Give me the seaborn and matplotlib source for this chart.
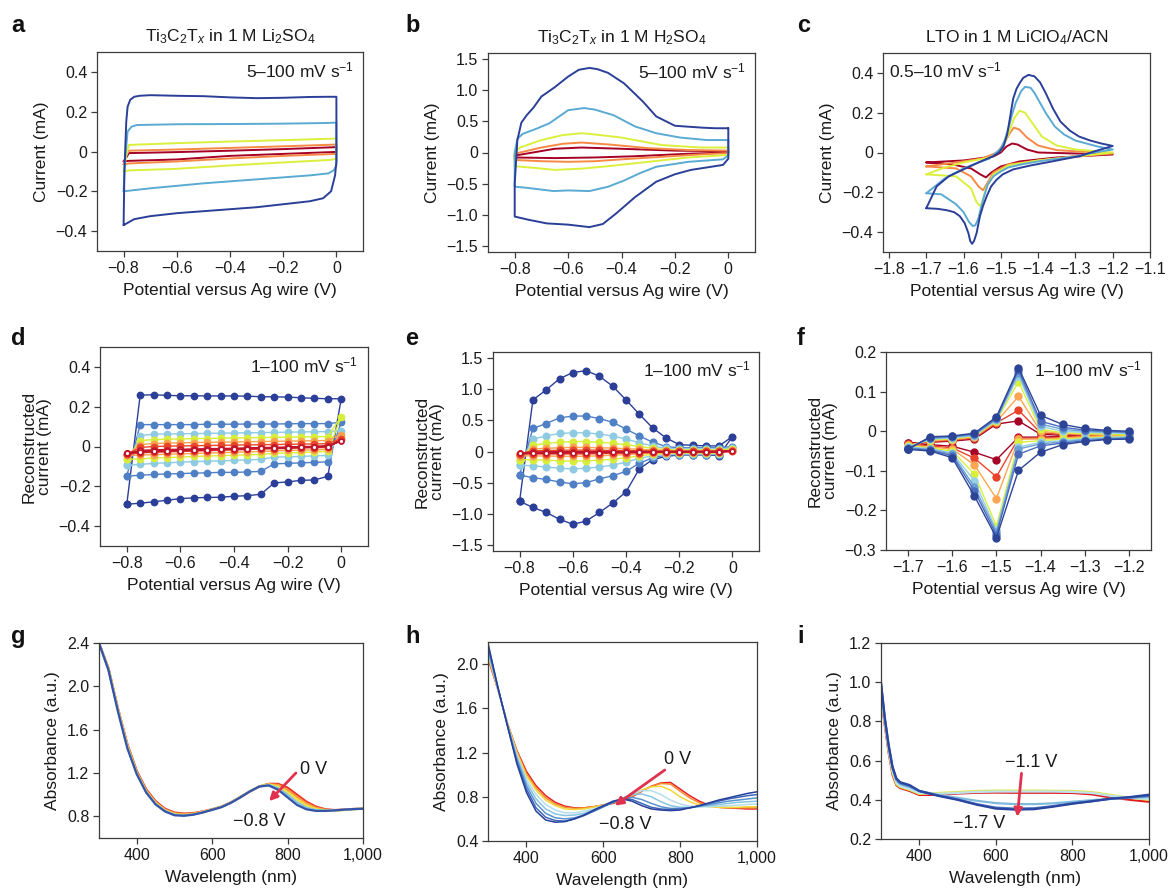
import numpy as np
import pandas as pd
import matplotlib
matplotlib.use("Agg")
import matplotlib.pyplot as plt
from matplotlib.ticker import FuncFormatter, FixedLocator
import seaborn as sns

# ---------------- DATA ----------------
# Panel a: Ti3C2Tx in Li2SO4 (5 scan rates, inner -> outer)
a_x_100 = [-0.8, -0.797, -0.79, -0.785, -0.775, -0.76, -0.74, -0.7, -0.6, -0.5, -0.4, -0.3, -0.2, -0.1, -0.03, 0.0, 0.0, -0.005, -0.02, -0.05, -0.1, -0.2, -0.3, -0.4, -0.5, -0.6, -0.7, -0.76, -0.8]
a_y_100 = [-0.37, -0.1, 0.15, 0.225, 0.26, 0.275, 0.28, 0.283, 0.28, 0.278, 0.272, 0.268, 0.27, 0.274, 0.275, 0.275, -0.05, -0.12, -0.2, -0.235, -0.25, -0.265, -0.28, -0.29, -0.30, -0.31, -0.325, -0.34, -0.37]
a_x_50 = [-0.8, -0.795, -0.785, -0.77, -0.75, -0.6, -0.4, -0.2, -0.05, 0.0, 0.0, -0.01, -0.03, -0.1, -0.3, -0.5, -0.7, -0.8]
a_y_50 = [-0.2, -0.05, 0.1, 0.125, 0.133, 0.137, 0.138, 0.14, 0.143, 0.145, -0.07, -0.095, -0.11, -0.12, -0.14, -0.16, -0.185, -0.2]
a_x_20 = [-0.8, -0.79, -0.78, -0.6, -0.4, -0.2, 0.0, 0.0, -0.02, -0.2, -0.4, -0.6, -0.78, -0.8]
a_y_20 = [-0.1, -0.02, 0.033, 0.042, 0.05, 0.057, 0.065, -0.035, -0.042, -0.055, -0.07, -0.087, -0.095, -0.1]
a_x_10 = [-0.8, -0.79, -0.78, -0.6, -0.4, -0.2, 0.0, 0.0, -0.2, -0.4, -0.6, -0.78, -0.8]
a_y_10 = [-0.065, -0.02, 0.004, 0.01, 0.018, 0.026, 0.035, -0.012, -0.022, -0.035, -0.05, -0.06, -0.065]
a_x_5 = [-0.8, -0.79, -0.78, -0.6, -0.4, -0.2, 0.0, 0.0, -0.2, -0.4, -0.6, -0.78, -0.8]
a_y_5 = [-0.05, -0.03, -0.008, -0.003, 0.004, 0.012, 0.022, -0.002, -0.012, -0.022, -0.04, -0.047, -0.05]

# Panel b: Ti3C2Tx in H2SO4
b_x_100 = [0.0, -0.05, -0.1, -0.2, -0.27, -0.32, -0.39, -0.45, -0.49, -0.52, -0.56, -0.6, -0.65, -0.7, -0.73, -0.755, -0.775, -0.79, -0.8, -0.8, -0.75, -0.68, -0.6, -0.52, -0.47, -0.42, -0.35, -0.27, -0.2, -0.14, -0.08, -0.02, 0.0, 0.0]
b_y_100 = [0.39, 0.39, 0.40, 0.43, 0.58, 0.82, 1.11, 1.28, 1.34, 1.36, 1.33, 1.22, 1.05, 0.9, 0.72, 0.6, 0.48, 0.2, -0.5, -1.03, -1.08, -1.14, -1.16, -1.2, -1.15, -0.98, -0.72, -0.47, -0.35, -0.28, -0.24, -0.2, -0.1, 0.39]
b_x_50 = [0.0, -0.08, -0.18, -0.27, -0.35, -0.43, -0.5, -0.54, -0.6, -0.67, -0.72, -0.77, -0.79, -0.8, -0.8, -0.75, -0.655, -0.6, -0.52, -0.45, -0.39, -0.33, -0.27, -0.15, -0.02, 0.0, 0.0]
b_y_50 = [0.2, 0.2, 0.24, 0.31, 0.42, 0.6, 0.69, 0.715, 0.68, 0.47, 0.38, 0.3, 0.22, 0.0, -0.55, -0.57, -0.62, -0.61, -0.62, -0.55, -0.45, -0.33, -0.23, -0.15, -0.11, -0.05, 0.2]
b_x_20 = [0.0, -0.1, -0.25, -0.4, -0.5, -0.55, -0.62, -0.7, -0.78, -0.8, -0.8, -0.72, -0.65, -0.55, -0.45, -0.3, -0.15, 0.0, 0.0]
b_y_20 = [0.08, 0.08, 0.12, 0.24, 0.29, 0.31, 0.28, 0.2, 0.08, 0.0, -0.22, -0.25, -0.28, -0.26, -0.22, -0.15, -0.08, -0.04, 0.08]
b_x_10 = [0.0, -0.15, -0.3, -0.45, -0.55, -0.62, -0.7, -0.8, -0.8, -0.7, -0.6, -0.5, -0.4, -0.25, -0.1, 0.0, 0.0]
b_y_10 = [0.03, 0.04, 0.07, 0.13, 0.16, 0.14, 0.08, -0.02, -0.12, -0.14, -0.15, -0.14, -0.11, -0.07, -0.03, -0.01, 0.03]
b_x_5 = [0.0, -0.2, -0.4, -0.55, -0.65, -0.8, -0.8, -0.65, -0.5, -0.35, -0.15, 0.0, 0.0]
b_y_5 = [0.02, 0.03, 0.06, 0.08, 0.06, -0.05, -0.08, -0.09, -0.08, -0.06, -0.02, 0.0, 0.02]

# Panel c: LTO in LiClO4/ACN (0.5-10 mV/s)
c_x_10 = [-1.7, -1.672, -1.64, -1.6, -1.56, -1.52, -1.505, -1.493, -1.483, -1.475, -1.467, -1.458, -1.449, -1.44, -1.426, -1.41, -1.395, -1.38, -1.36, -1.34, -1.315, -1.29, -1.26, -1.23, -1.2,
          -1.25, -1.288, -1.33, -1.377, -1.42, -1.467, -1.495, -1.511, -1.526, -1.538, -1.548, -1.556, -1.565, -1.572, -1.577, -1.582, -1.587, -1.597, -1.61, -1.625, -1.645, -1.67, -1.7]
c_y_10 = [-0.28, -0.17, -0.12, -0.085, -0.05, -0.018, 0.0, 0.03, 0.09, 0.18, 0.27, 0.32, 0.35, 0.375, 0.39, 0.383, 0.353, 0.3, 0.22, 0.155, 0.11, 0.08, 0.06, 0.045, 0.033,
          0.005, -0.018, -0.033, -0.05, -0.065, -0.085, -0.11, -0.136, -0.17, -0.22, -0.27, -0.32, -0.405, -0.445, -0.459, -0.445, -0.405, -0.355, -0.32, -0.3, -0.29, -0.283, -0.28]
c_x_5 = [-1.7, -1.65, -1.6, -1.56, -1.53, -1.5, -1.49, -1.48, -1.47, -1.46, -1.445, -1.435, -1.42, -1.41, -1.395, -1.38, -1.355, -1.33, -1.3, -1.28, -1.24, -1.2,
         -1.25, -1.3, -1.35, -1.4, -1.44, -1.48, -1.5, -1.52, -1.535, -1.545, -1.555, -1.56, -1.568, -1.575, -1.585, -1.6, -1.62, -1.66, -1.7]
c_y_5 = [-0.205, -0.13, -0.08, -0.05, -0.03, 0.02, 0.06, 0.12, 0.19, 0.25, 0.31, 0.33, 0.325, 0.3, 0.25, 0.2, 0.13, 0.09, 0.06, 0.05, 0.03, 0.015,
         0.0, -0.02, -0.032, -0.045, -0.058, -0.075, -0.095, -0.12, -0.16, -0.22, -0.29, -0.33, -0.365, -0.37, -0.35, -0.3, -0.26, -0.21, -0.205]
c_x_2 = [-1.7, -1.65, -1.6, -1.53, -1.5, -1.48, -1.465, -1.45, -1.435, -1.42, -1.39, -1.35, -1.3, -1.2, -1.3, -1.4, -1.48, -1.52, -1.54, -1.55, -1.555, -1.565, -1.58, -1.62, -1.7]
c_y_2 = [-0.11, -0.075, -0.05, -0.025, 0.01, 0.09, 0.17, 0.21, 0.2, 0.16, 0.08, 0.035, 0.015, 0.0, -0.02, -0.04, -0.065, -0.11, -0.18, -0.25, -0.27, -0.25, -0.18, -0.12, -0.11]
c_x_1 = [-1.7, -1.62, -1.55, -1.51, -1.49, -1.475, -1.465, -1.45, -1.43, -1.4, -1.35, -1.2, -1.3, -1.4, -1.48, -1.52, -1.538, -1.548, -1.56, -1.58, -1.62, -1.7]
c_y_1 = [-0.07, -0.05, -0.03, 0.0, 0.05, 0.1, 0.125, 0.115, 0.075, 0.035, 0.012, -0.005, -0.02, -0.04, -0.06, -0.1, -0.16, -0.19, -0.17, -0.12, -0.08, -0.07]
c_x_05 = [-1.7, -1.6, -1.52, -1.5, -1.485, -1.47, -1.455, -1.43, -1.4, -1.2, -1.35, -1.45, -1.5, -1.525, -1.54, -1.555, -1.58, -1.63, -1.7]
c_y_05 = [-0.05, -0.04, -0.02, 0.0, 0.03, 0.045, 0.04, 0.015, 0.0, -0.01, -0.025, -0.045, -0.07, -0.1, -0.125, -0.11, -0.08, -0.06, -0.05]

# Panel d/e: reconstructed CV, potentials of the sampled cycle (-0.8 -> 0 -> -0.8)
de_cycle_pot = [-0.8, -0.75, -0.7, -0.65, -0.6, -0.55, -0.5, -0.45, -0.4, -0.35, -0.3, -0.25, -0.2, -0.15, -0.1, -0.05, 0.0,
                -0.05, -0.1, -0.15, -0.2, -0.25, -0.3, -0.35, -0.4, -0.45, -0.5, -0.55, -0.6, -0.65, -0.7, -0.75, -0.8]
d_i_100 = [-0.29, 0.258, 0.26, 0.257, 0.255, 0.255, 0.254, 0.254, 0.254, 0.253, 0.25, 0.25, 0.248, 0.245, 0.242, 0.24, 0.24,
           -0.15, -0.168, -0.17, -0.178, -0.183, -0.24, -0.247, -0.25, -0.255, -0.256, -0.258, -0.262, -0.27, -0.278, -0.285, -0.29]
d_i_50 = [-0.148, 0.11, 0.11, 0.11, 0.11, 0.11, 0.112, 0.112, 0.112, 0.113, 0.113, 0.113, 0.114, 0.115, 0.115, 0.115, 0.122,
          -0.077, -0.08, -0.082, -0.085, -0.087, -0.125, -0.128, -0.13, -0.13, -0.132, -0.134, -0.136, -0.138, -0.14, -0.145, -0.148]
d_i_20 = [-0.095, 0.055, 0.062, 0.063, 0.064, 0.065, 0.066, 0.067, 0.068, 0.069, 0.07, 0.071, 0.072, 0.073, 0.074, 0.075, 0.08,
          -0.045, -0.047, -0.05, -0.052, -0.053, -0.065, -0.067, -0.07, -0.072, -0.074, -0.076, -0.079, -0.082, -0.085, -0.09, -0.095]
d_i_10 = [-0.065, 0.03, 0.035, 0.037, 0.038, 0.04, 0.04, 0.042, 0.043, 0.044, 0.045, 0.046, 0.047, 0.048, 0.049, 0.05, 0.15,
          -0.025, -0.027, -0.03, -0.032, -0.034, -0.04, -0.042, -0.044, -0.046, -0.048, -0.05, -0.053, -0.056, -0.058, -0.062, -0.065]
d_i_5 = [-0.045, 0.01, 0.015, 0.017, 0.018, 0.02, 0.021, 0.022, 0.023, 0.024, 0.025, 0.026, 0.027, 0.028, 0.029, 0.03, 0.06,
         -0.015, -0.017, -0.018, -0.02, -0.022, -0.025, -0.027, -0.029, -0.031, -0.033, -0.035, -0.037, -0.039, -0.041, -0.043, -0.045]
d_i_2 = [-0.04, -0.005, 0.0, 0.002, 0.003, 0.004, 0.005, 0.006, 0.007, 0.008, 0.009, 0.01, 0.011, 0.012, 0.013, 0.014, 0.04,
         -0.005, -0.006, -0.008, -0.01, -0.011, -0.013, -0.015, -0.017, -0.019, -0.021, -0.023, -0.025, -0.027, -0.029, -0.032, -0.04]
d_i_1 = [-0.035, -0.02, -0.018, -0.016, -0.015, -0.013, -0.012, -0.011, -0.01, -0.008, -0.007, -0.005, -0.004, -0.002, 0.0, 0.002, 0.03,
         0.0, -0.002, -0.004, -0.006, -0.008, -0.009, -0.011, -0.013, -0.015, -0.017, -0.019, -0.021, -0.023, -0.025, -0.028, -0.035]

e_i_100 = [-0.8, 0.83, 0.99, 1.17, 1.27, 1.30, 1.21, 1.05, 0.83, 0.6, 0.38, 0.22, 0.11, 0.1, 0.09, 0.09, 0.24,
           -0.065, -0.055, -0.055, -0.055, -0.08, -0.13, -0.28, -0.65, -0.83, -0.98, -1.12, -1.17, -1.09, -0.98, -0.9, -0.8]
e_i_50 = [-0.38, 0.37, 0.45, 0.54, 0.57, 0.57, 0.53, 0.47, 0.36, 0.25, 0.15, 0.08, 0.06, 0.06, 0.06, 0.06, 0.08,
          -0.05, -0.05, -0.05, -0.05, -0.06, -0.1, -0.19, -0.32, -0.39, -0.44, -0.5, -0.52, -0.49, -0.45, -0.42, -0.38]
e_i_20 = [-0.22, 0.2, 0.25, 0.29, 0.3, 0.3, 0.28, 0.25, 0.2, 0.14, 0.09, 0.05, 0.04, 0.04, 0.04, 0.04, 0.06,
          -0.04, -0.04, -0.04, -0.04, -0.05, -0.07, -0.11, -0.17, -0.22, -0.25, -0.27, -0.28, -0.27, -0.25, -0.23, -0.22]
e_i_10 = [-0.13, 0.1, 0.13, 0.15, 0.16, 0.16, 0.15, 0.13, 0.11, 0.08, 0.05, 0.03, 0.025, 0.025, 0.025, 0.025, 0.04,
          -0.025, -0.025, -0.025, -0.025, -0.03, -0.045, -0.07, -0.1, -0.125, -0.14, -0.15, -0.155, -0.15, -0.14, -0.135, -0.13]
e_i_5 = [-0.07, 0.04, 0.05, 0.06, 0.065, 0.065, 0.06, 0.055, 0.045, 0.035, 0.025, 0.015, 0.01, 0.01, 0.01, 0.01, 0.02,
         -0.015, -0.015, -0.015, -0.015, -0.02, -0.025, -0.035, -0.05, -0.06, -0.07, -0.075, -0.078, -0.076, -0.073, -0.07, -0.07]
e_i_2 = [-0.04, 0.01, 0.015, 0.02, 0.022, 0.022, 0.02, 0.018, 0.015, 0.012, 0.008, 0.005, 0.004, 0.004, 0.004, 0.004, 0.01,
         -0.01, -0.01, -0.01, -0.01, -0.012, -0.015, -0.02, -0.025, -0.03, -0.035, -0.038, -0.04, -0.04, -0.04, -0.04, -0.04]
e_i_1 = [-0.03, -0.01, -0.008, -0.006, -0.005, -0.005, -0.005, -0.005, -0.005, -0.004, -0.003, -0.002, -0.001, 0.0, 0.0, 0.0, 0.005,
         -0.005, -0.006, -0.007, -0.008, -0.009, -0.01, -0.012, -0.014, -0.016, -0.018, -0.02, -0.022, -0.024, -0.026, -0.028, -0.03]

# Panel f: reconstructed CV of LTO
f_cycle_pot = [-1.7, -1.65, -1.6, -1.55, -1.5, -1.45, -1.4, -1.35, -1.3, -1.25, -1.2,
               -1.2, -1.25, -1.3, -1.35, -1.4, -1.45, -1.5, -1.55, -1.6, -1.65, -1.7]
f_i_100 = [-0.046, -0.014, -0.012, -0.005, 0.036, 0.16, 0.04, 0.017, 0.007, 0.002, 0.0,
           -0.02, -0.021, -0.026, -0.034, -0.053, -0.099, -0.269, -0.163, -0.067, -0.05, -0.046]
f_i_50 = [-0.044, -0.016, -0.013, -0.007, 0.033, 0.155, 0.025, 0.01, 0.003, 0.0, -0.002,
          -0.018, -0.02, -0.024, -0.03, -0.037, -0.058, -0.262, -0.15, -0.062, -0.048, -0.044]
f_i_30 = [-0.042, -0.018, -0.015, -0.009, 0.03, 0.148, 0.018, 0.005, 0.0, -0.002, -0.004,
          -0.016, -0.018, -0.021, -0.027, -0.032, -0.045, -0.255, -0.14, -0.058, -0.046, -0.042]
f_i_20 = [-0.04, -0.02, -0.017, -0.011, 0.028, 0.14, 0.012, 0.0, -0.003, -0.004, -0.006,
          -0.014, -0.016, -0.019, -0.024, -0.028, -0.04, -0.25, -0.125, -0.055, -0.044, -0.04]
f_i_10 = [-0.038, -0.022, -0.019, -0.013, 0.026, 0.125, 0.005, -0.004, -0.006, -0.007, -0.008,
          -0.012, -0.014, -0.017, -0.02, -0.024, -0.028, -0.24, -0.108, -0.05, -0.042, -0.038]
f_i_5 = [-0.035, -0.024, -0.021, -0.015, 0.024, 0.088, 0.0, -0.006, -0.008, -0.009, -0.01,
         -0.011, -0.012, -0.014, -0.017, -0.02, -0.02, -0.17, -0.085, -0.045, -0.04, -0.035]
f_i_2 = [-0.033, -0.026, -0.023, -0.017, 0.021, 0.053, -0.004, -0.008, -0.01, -0.01, -0.011,
         -0.011, -0.011, -0.013, -0.015, -0.017, -0.018, -0.115, -0.068, -0.042, -0.037, -0.033]
f_i_1 = [-0.03, -0.028, -0.025, -0.02, 0.018, 0.026, -0.008, -0.01, -0.011, -0.011, -0.012,
         -0.012, -0.012, -0.012, -0.013, -0.015, -0.015, -0.072, -0.053, -0.038, -0.034, -0.03]

# Panels g/h: spectra wavelength grid (nm)
gh_wl = [300, 325, 350, 375, 400, 425, 450, 475, 500, 525, 550, 575, 600, 625, 650, 675, 700, 725, 750, 775, 800, 825, 850, 875, 900, 925, 950, 975, 1000]
g_0V = [2.40, 2.17, 1.80, 1.47, 1.22, 1.05, 0.94, 0.87, 0.835, 0.825, 0.83, 0.845, 0.865, 0.89, 0.93, 0.98, 1.03, 1.075, 1.10, 1.10, 1.065, 1.00, 0.935, 0.89, 0.865, 0.858, 0.862, 0.868, 0.87]
g_m02V = [2.40, 2.165, 1.795, 1.46, 1.21, 1.04, 0.93, 0.862, 0.828, 0.818, 0.825, 0.842, 0.863, 0.889, 0.928, 0.978, 1.03, 1.076, 1.097, 1.09, 1.045, 0.98, 0.92, 0.88, 0.86, 0.855, 0.86, 0.867, 0.87]
g_m04V = [2.40, 2.16, 1.79, 1.45, 1.20, 1.03, 0.922, 0.855, 0.82, 0.812, 0.82, 0.84, 0.862, 0.888, 0.927, 0.977, 1.03, 1.076, 1.094, 1.075, 1.02, 0.955, 0.90, 0.868, 0.855, 0.853, 0.858, 0.866, 0.87]
g_m06V = [2.40, 2.155, 1.78, 1.44, 1.195, 1.025, 0.915, 0.85, 0.815, 0.808, 0.817, 0.837, 0.86, 0.886, 0.926, 0.976, 1.03, 1.075, 1.09, 1.06, 1.0, 0.93, 0.88, 0.858, 0.852, 0.855, 0.86, 0.866, 0.87]
g_m08V = [2.40, 2.15, 1.77, 1.43, 1.19, 1.02, 0.91, 0.845, 0.81, 0.805, 0.815, 0.835, 0.86, 0.885, 0.925, 0.975, 1.03, 1.075, 1.085, 1.045, 0.975, 0.905, 0.865, 0.85, 0.85, 0.855, 0.862, 0.867, 0.87]

h_0V = [2.05, 1.78, 1.47, 1.22, 1.03, 0.90, 0.81, 0.75, 0.715, 0.70, 0.70, 0.71, 0.725, 0.74, 0.765, 0.80, 0.85, 0.895, 0.925, 0.93, 0.87, 0.81, 0.76, 0.725, 0.705, 0.70, 0.695, 0.69, 0.69]
h_m01V = [2.06, 1.78, 1.47, 1.21, 1.01, 0.88, 0.79, 0.735, 0.705, 0.695, 0.70, 0.71, 0.725, 0.745, 0.77, 0.805, 0.855, 0.895, 0.92, 0.915, 0.85, 0.79, 0.745, 0.72, 0.705, 0.70, 0.70, 0.70, 0.70]
h_m02V = [2.08, 1.79, 1.47, 1.20, 0.99, 0.86, 0.77, 0.72, 0.69, 0.685, 0.69, 0.705, 0.725, 0.75, 0.775, 0.815, 0.86, 0.89, 0.895, 0.86, 0.80, 0.755, 0.725, 0.71, 0.705, 0.705, 0.705, 0.71, 0.71]
h_m03V = [2.10, 1.79, 1.46, 1.18, 0.96, 0.82, 0.73, 0.68, 0.655, 0.655, 0.67, 0.69, 0.72, 0.75, 0.785, 0.825, 0.855, 0.855, 0.82, 0.77, 0.735, 0.715, 0.71, 0.71, 0.715, 0.72, 0.725, 0.73, 0.735]
h_m05V = [2.12, 1.79, 1.46, 1.16, 0.93, 0.78, 0.69, 0.645, 0.63, 0.635, 0.65, 0.68, 0.715, 0.75, 0.79, 0.82, 0.825, 0.80, 0.755, 0.72, 0.705, 0.705, 0.71, 0.72, 0.73, 0.74, 0.75, 0.755, 0.76]
h_m06V = [2.14, 1.80, 1.455, 1.14, 0.90, 0.74, 0.65, 0.61, 0.60, 0.61, 0.635, 0.67, 0.71, 0.75, 0.785, 0.795, 0.775, 0.74, 0.71, 0.695, 0.695, 0.70, 0.715, 0.73, 0.745, 0.76, 0.77, 0.78, 0.79]
h_m07V = [2.17, 1.80, 1.45, 1.12, 0.87, 0.70, 0.615, 0.585, 0.58, 0.60, 0.63, 0.67, 0.71, 0.75, 0.78, 0.775, 0.74, 0.705, 0.69, 0.685, 0.69, 0.70, 0.72, 0.74, 0.76, 0.78, 0.795, 0.81, 0.82]
h_m08V = [2.19, 1.80, 1.45, 1.10, 0.84, 0.67, 0.59, 0.57, 0.575, 0.60, 0.635, 0.68, 0.72, 0.76, 0.78, 0.76, 0.72, 0.69, 0.68, 0.675, 0.68, 0.70, 0.72, 0.745, 0.77, 0.79, 0.81, 0.83, 0.845]

# Panel i: LTO spectra
i_wl = [300, 310, 320, 330, 340, 350, 375, 400, 450, 500, 550, 600, 650, 700, 750, 800, 850, 900, 950, 1000]
i_m11V = [0.93, 0.78, 0.64, 0.53, 0.475, 0.46, 0.445, 0.425, 0.425, 0.432, 0.436, 0.437, 0.436, 0.436, 0.436, 0.435, 0.428, 0.412, 0.40, 0.39]
i_m12V = [0.94, 0.79, 0.65, 0.54, 0.48, 0.465, 0.45, 0.43, 0.435, 0.44, 0.445, 0.447, 0.447, 0.447, 0.446, 0.445, 0.44, 0.425, 0.41, 0.40]
i_m13V = [0.96, 0.80, 0.66, 0.55, 0.49, 0.47, 0.455, 0.435, 0.43, 0.435, 0.44, 0.442, 0.442, 0.442, 0.442, 0.44, 0.435, 0.42, 0.41, 0.405]
i_m15V = [0.98, 0.81, 0.67, 0.56, 0.50, 0.48, 0.465, 0.445, 0.425, 0.41, 0.395, 0.383, 0.378, 0.378, 0.382, 0.39, 0.398, 0.405, 0.41, 0.415]
i_m16V = [0.99, 0.81, 0.675, 0.565, 0.505, 0.485, 0.47, 0.445, 0.422, 0.402, 0.378, 0.36, 0.355, 0.357, 0.368, 0.382, 0.393, 0.405, 0.412, 0.42]
i_m17V = [1.0, 0.82, 0.68, 0.57, 0.51, 0.49, 0.475, 0.445, 0.42, 0.40, 0.375, 0.355, 0.35, 0.352, 0.365, 0.38, 0.392, 0.406, 0.414, 0.426]

# Colors
cv5_colors = ['#a50026', '#f68a45', '#dcef3c', '#5aaad3', '#2b3f98']      # inner -> outer
rec7_colors = ['#2c3f98', '#4f80c6', '#8ecbe2', '#d6ee3a', '#fba24f', '#e9472c', '#c0152b']  # outer -> inner
f8_colors = ['#2d4496', '#4a6bbd', '#6b9fd4', '#94d0e6', '#d9ef3b', '#fca652', '#e8432b', '#a50026']
g_colors = ['#e8322b', '#fb9a3c', '#f0e23a', '#86c5e0', '#3553a8']
h_colors = ['#e41f26', '#f88a2c', '#f0d83a', '#b5deea', '#86c4e2', '#5a93cf', '#3f67b8', '#263f9a']
i_colors = ['#e31a1c', '#dfe55a', '#bde3ef', '#7fb9dc', '#4770bc', '#2a45a0']
arrow_color = '#e0324f'

# ---------------- STYLE ----------------
sns.set_theme(style="white")
plt.rcParams['font.family'] = ['Liberation Sans', 'DejaVu Sans']
plt.rcParams['mathtext.fontset'] = 'custom'
plt.rcParams['mathtext.rm'] = 'Liberation Sans'
plt.rcParams['mathtext.it'] = 'Liberation Sans:italic'
plt.rcParams['mathtext.bf'] = 'Liberation Sans:bold'
plt.rcParams['axes.unicode_minus'] = True

W, H = 1169, 893
fig = plt.figure(figsize=(W / 100, H / 100), dpi=100)
TXT = '#1a1a1a'
SPINE = '#3c3c3c'


def place(l, t, r, b):
    return fig.add_axes([l / W, 1 - b / H, (r - l) / W, (b - t) / H])


def num_fmt(v, pos):
    if abs(v) < 1e-9:
        return '0'
    return f'{v:.1f}'.replace('-', '\u2212')


def wl_fmt(v, pos):
    return f'{int(round(v)):,}'


def style(ax, xlim, ylim, xticks, yticks, xfmt, yfmt, xlabel, ylabel):
    ax.set_xlim(*xlim)
    ax.set_ylim(*ylim)
    ax.xaxis.set_major_locator(FixedLocator(xticks))
    ax.yaxis.set_major_locator(FixedLocator(yticks))
    ax.xaxis.set_major_formatter(FuncFormatter(xfmt))
    ax.yaxis.set_major_formatter(FuncFormatter(yfmt))
    for s in ax.spines.values():
        s.set_color(SPINE)
        s.set_linewidth(0.9)
        s.set_visible(True)
    ax.tick_params(axis='both', which='both', direction='out', length=4, width=0.9,
                   colors=SPINE, labelcolor=TXT, labelsize=11.5, top=False, right=False,
                   bottom=True, left=True, pad=3)
    ax.set_xlabel(xlabel, fontsize=12.5, color=TXT, labelpad=5)
    ax.set_ylabel(ylabel, fontsize=12.5, color=TXT, labelpad=5, linespacing=1.0)


def loop(ax, xs, ys, color, lw=1.4):
    df = pd.DataFrame({'x': xs, 'y': ys})
    sns.lineplot(data=df, x='x', y='y', sort=False, estimator=None, color=color, lw=lw, ax=ax)


def dotloop(ax, xs, ys, color, ms=5, lw=1.0, face=None, mew=0.0):
    df = pd.DataFrame({'x': xs, 'y': ys})
    sns.lineplot(data=df, x='x', y='y', sort=False, estimator=None, color=color, lw=lw,
                 marker='o', markersize=ms, markeredgewidth=mew,
                 markeredgecolor=color, markerfacecolor=face if face else color, ax=ax)


cv_xticks = [-0.8, -0.6, -0.4, -0.2, 0.0]
POT = 'Potential versus Ag wire (V)'
REC = 'Reconstructed\ncurrent (mA)'

# ---------------- Panel a ----------------
ax = place(97, 52, 363, 251)
for xs, ys, c in zip([a_x_5, a_x_10, a_x_20, a_x_50, a_x_100], [a_y_5, a_y_10, a_y_20, a_y_50, a_y_100], cv5_colors):
    loop(ax, xs, ys, c)
style(ax, (-0.9, 0.1), (-0.5, 0.5), cv_xticks, [-0.4, -0.2, 0, 0.2, 0.4], num_fmt, num_fmt, POT, 'Current (mA)')
ax.set_title(r'Ti$_3$C$_2$T$_x$ in 1 M Li$_2$SO$_4$', fontsize=12.5, color=TXT, pad=8)
ax.text(0.965, 0.905, r'5–100 mV s$^{-1}$', transform=ax.transAxes, ha='right', va='center', fontsize=12.5, color=TXT)

# ---------------- Panel b ----------------
ax = place(488, 53, 755, 252)
for xs, ys, c in zip([b_x_5, b_x_10, b_x_20, b_x_50, b_x_100], [b_y_5, b_y_10, b_y_20, b_y_50, b_y_100], cv5_colors):
    loop(ax, xs, ys, c)
style(ax, (-0.9, 0.1), (-1.6, 1.6), cv_xticks, [-1.5, -1.0, -0.5, 0, 0.5, 1.0, 1.5], num_fmt, num_fmt, POT, 'Current (mA)')
ax.set_title(r'Ti$_3$C$_2$T$_x$ in 1 M H$_2$SO$_4$', fontsize=12.5, color=TXT, pad=8)
ax.text(0.965, 0.905, r'5–100 mV s$^{-1}$', transform=ax.transAxes, ha='right', va='center', fontsize=12.5, color=TXT)

# ---------------- Panel c ----------------
ax = place(883, 53, 1150, 252)
for xs, ys, c in zip([c_x_05, c_x_1, c_x_2, c_x_5, c_x_10], [c_y_05, c_y_1, c_y_2, c_y_5, c_y_10], cv5_colors):
    loop(ax, xs, ys, c)
style(ax, (-1.816, -1.1), (-0.5, 0.5), [-1.8, -1.7, -1.6, -1.5, -1.4, -1.3, -1.2, -1.1],
      [-0.4, -0.2, 0, 0.2, 0.4], num_fmt, num_fmt, POT, 'Current (mA)')
ax.set_title(r'LTO in 1 M LiClO$_4$/ACN', fontsize=12.5, color=TXT, pad=8)
ax.text(0.022, 0.91, r'0.5–10 mV s$^{-1}$', transform=ax.transAxes, ha='left', va='center', fontsize=12.5, color=TXT)

# ---------------- Panel d ----------------
ax = place(100, 347, 368, 546)
d_series = [d_i_100, d_i_50, d_i_20, d_i_10, d_i_5, d_i_2]
for ys, c in zip(d_series, rec7_colors[:6]):
    dotloop(ax, de_cycle_pot, ys, c, ms=5.6)
dotloop(ax, de_cycle_pot, d_i_1, rec7_colors[6], ms=3.6, lw=1.3, face='white', mew=1.3)
style(ax, (-0.9, 0.1), (-0.5, 0.5), cv_xticks, [-0.4, -0.2, 0, 0.2, 0.4], num_fmt, num_fmt, POT, REC)
ax.text(0.963, 0.906, r'1–100 mV s$^{-1}$', transform=ax.transAxes, ha='right', va='center', fontsize=12.5, color=TXT)

# ---------------- Panel e ----------------
ax = place(493, 352, 759, 551)
e_series = [e_i_100, e_i_50, e_i_20, e_i_10, e_i_5, e_i_2]
for ys, c in zip(e_series, rec7_colors[:6]):
    dotloop(ax, de_cycle_pot, ys, c, ms=5.8)
dotloop(ax, de_cycle_pot, e_i_1, rec7_colors[6], ms=3.4, lw=1.3, face='white', mew=1.2)
style(ax, (-0.9, 0.1), (-1.6, 1.6), cv_xticks, [-1.5, -1.0, -0.5, 0, 0.5, 1.0, 1.5], num_fmt, num_fmt, POT, REC)
ax.text(0.972, 0.91, r'1–100 mV s$^{-1}$', transform=ax.transAxes, ha='right', va='center', fontsize=12.5, color=TXT)

# ---------------- Panel f ----------------
ax = place(886, 352, 1151, 550)
f_series = [f_i_100, f_i_50, f_i_30, f_i_20, f_i_10, f_i_5, f_i_2, f_i_1]
for ys, c in list(zip(f_series, f8_colors))[::-1]:
    dotloop(ax, f_cycle_pot, ys, c, ms=6.0)
style(ax, (-1.75, -1.15), (-0.3, 0.2), [-1.7, -1.6, -1.5, -1.4, -1.3, -1.2],
      [-0.3, -0.2, -0.1, 0, 0.1, 0.2], num_fmt, num_fmt, POT, REC)
ax.text(0.965, 0.91, r'1–100 mV s$^{-1}$', transform=ax.transAxes, ha='right', va='center', fontsize=12.5, color=TXT)

# ---------------- Panel g ----------------
ax = place(99, 643, 363, 838)
for ys, c in zip([g_0V, g_m02V, g_m04V, g_m06V, g_m08V], g_colors):
    sns.lineplot(x=gh_wl, y=ys, color=c, lw=1.6, ax=ax)
style(ax, (300, 1000), (0.6, 2.4), [400, 600, 800, 1000], [0.8, 1.2, 1.6, 2.0, 2.4], wl_fmt,
      lambda v, p: f'{v:.1f}', 'Wavelength (nm)', 'Absorbance (a.u.)')
ax.annotate('', xy=(751, 0.94), xytext=(822, 1.20),
            arrowprops=dict(arrowstyle='-|>', color=arrow_color, lw=2.0, mutation_scale=12, shrinkA=0, shrinkB=0))
ax.text(833, 1.228, '0 V', ha='left', va='center', fontsize=13, color=TXT)
ax.text(724, 0.75, '\u22120.8 V', ha='center', va='center', fontsize=13, color=TXT)

# ---------------- Panel h ----------------
ax = place(488, 642, 757, 841)
for ys, c in zip([h_0V, h_m01V, h_m02V, h_m03V, h_m05V, h_m06V, h_m07V, h_m08V], h_colors):
    sns.lineplot(x=gh_wl, y=ys, color=c, lw=1.1, ax=ax)
style(ax, (300, 1000), (0.4, 2.2), [400, 600, 800, 1000], [0.4, 0.8, 1.2, 1.6, 2.0], wl_fmt,
      lambda v, p: f'{v:.1f}', 'Wavelength (nm)', 'Absorbance (a.u.)')
ax.annotate('', xy=(630, 0.72), xytext=(760, 1.042),
            arrowprops=dict(arrowstyle='-|>', color=arrow_color, lw=2.0, mutation_scale=12, shrinkA=0, shrinkB=0))
ax.text(792, 1.135, '0 V', ha='center', va='center', fontsize=13, color=TXT)
ax.text(656, 0.545, '\u22120.8 V', ha='center', va='center', fontsize=13, color=TXT)

# ---------------- Panel i ----------------
ax = place(881, 643, 1149, 839)
for ys, c in zip([i_m11V, i_m12V, i_m13V, i_m15V, i_m16V, i_m17V], i_colors):
    sns.lineplot(x=i_wl, y=ys, color=c, lw=1.6, ax=ax)
style(ax, (300, 1000), (0.2, 1.2), [400, 600, 800, 1000], [0.2, 0.4, 0.6, 0.8, 1.0, 1.2], wl_fmt,
      lambda v, p: f'{v:.1f}', 'Wavelength (nm)', 'Absorbance (a.u.)')
ax.annotate('', xy=(656, 0.313), xytext=(667, 0.535),
            arrowprops=dict(arrowstyle='-|>', color=arrow_color, lw=2.0, mutation_scale=12, shrinkA=0, shrinkB=0))
ax.text(692, 0.588, '\u22121.1 V', ha='center', va='center', fontsize=13, color=TXT)
ax.text(556, 0.28, '\u22121.7 V', ha='center', va='center', fontsize=13, color=TXT)

# ---------------- Panel letters ----------------
for letter, x, y in [('a', 11, 32), ('b', 405, 32), ('c', 797, 32),
                     ('d', 11, 345), ('e', 405, 345), ('f', 797, 345),
                     ('g', 11, 643), ('h', 405, 643), ('i', 797, 643)]:
    fig.text(x / W, 1 - y / H, letter, fontsize=17, fontweight='bold', ha='left', va='baseline', color='#111111')

fig.savefig('out.png', dpi=100)
